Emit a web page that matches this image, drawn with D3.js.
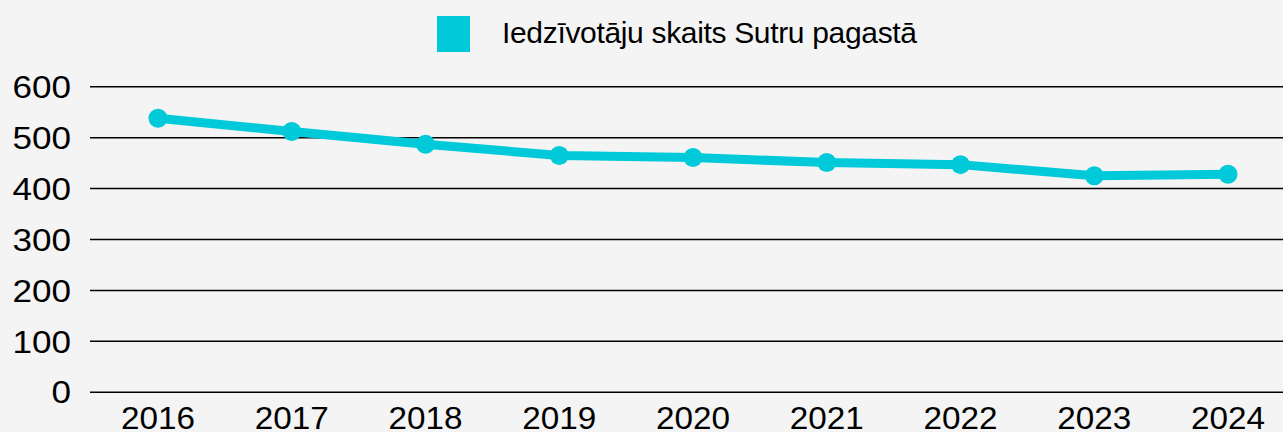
<!DOCTYPE html>
<html>
<head>
<meta charset="utf-8">
<script src="https://cdn.jsdelivr.net/npm/d3@7"></script>
<style>
  body { margin: 0; background: #f4f4f4; }
  svg { display: block; }
</style>
</head>
<body>
<script>
// data
var years = ["2016", "2017", "2018", "2019", "2020", "2021", "2022", "2023", "2024"];
var residents = [538, 512, 487, 465, 461, 451, 447, 425, 428];
var yTicks = [0, 100, 200, 300, 400, 500, 600];
var seriesName = "Iedzīvotāju skaits Sutru pagastā";

const WIDTH = 1283;
const HEIGHT = 432;
const COLOR = "#00c9da";
const FONT = "'Liberation Sans', Arial, sans-serif";

var svg = d3.select("body")
    .append("svg")
    .attr("width", WIDTH)
    .attr("height", HEIGHT)
    .style("background", "#f4f4f4");

// scales
var xScale = d3.scalePoint()
    .domain(years)
    .range([158, 1228]);

var yScale = d3.scaleLinear()
    .domain([0, 600])
    .range([392.3, 86.7]);

// gridlines
svg.append("g")
    .selectAll("line")
    .data(yTicks)
    .enter()
    .append("line")
    .attr("x1", 90)
    .attr("x2", WIDTH)
    .attr("y1", d => yScale(d))
    .attr("y2", d => yScale(d))
    .attr("stroke", "#000")
    .attr("stroke-width", 1.5);

// y labels
svg.append("g")
    .selectAll("text")
    .data(yTicks)
    .enter()
    .append("text")
    .attr("x", 71)
    .attr("y", d => yScale(d))
    .attr("dy", "0.36em")
    .attr("text-anchor", "end")
    .attr("font-family", FONT)
    .attr("font-size", 31)
    .attr("textLength", d => String(d).length * 19.5)
    .attr("lengthAdjust", "spacingAndGlyphs")
    .attr("fill", "#000")
    .text(d => d);

// x labels
svg.append("g")
    .selectAll("text")
    .data(years)
    .enter()
    .append("text")
    .attr("x", d => xScale(d))
    .attr("y", 429)
    .attr("text-anchor", "middle")
    .attr("font-family", FONT)
    .attr("font-size", 31)
    .attr("textLength", 74)
    .attr("lengthAdjust", "spacingAndGlyphs")
    .attr("fill", "#000")
    .text(d => d);

// line
var line = d3.line()
    .x((d, i) => xScale(years[i]))
    .y(d => yScale(d));

svg.append("path")
    .datum(residents)
    .attr("d", line)
    .attr("fill", "none")
    .attr("stroke", COLOR)
    .attr("stroke-width", 9)
    .attr("stroke-linejoin", "round");

svg.selectAll("circle.pt")
    .data(residents)
    .enter()
    .append("circle")
    .attr("class", "pt")
    .attr("cx", (d, i) => xScale(years[i]))
    .attr("cy", d => yScale(d))
    .attr("r", 9.5)
    .attr("fill", COLOR);

// legend
var legend = svg.append("g");
legend.append("rect")
    .attr("x", 437)
    .attr("y", 16)
    .attr("width", 33)
    .attr("height", 36)
    .attr("fill", COLOR);
legend.append("text")
    .attr("x", 502)
    .attr("y", 43.3)
    .attr("font-family", FONT)
    .attr("font-size", 30)
    .attr("textLength", 415)
    .attr("lengthAdjust", "spacing")
    .attr("fill", "#000")
    .text(seriesName);
</script>
</body>
</html>
